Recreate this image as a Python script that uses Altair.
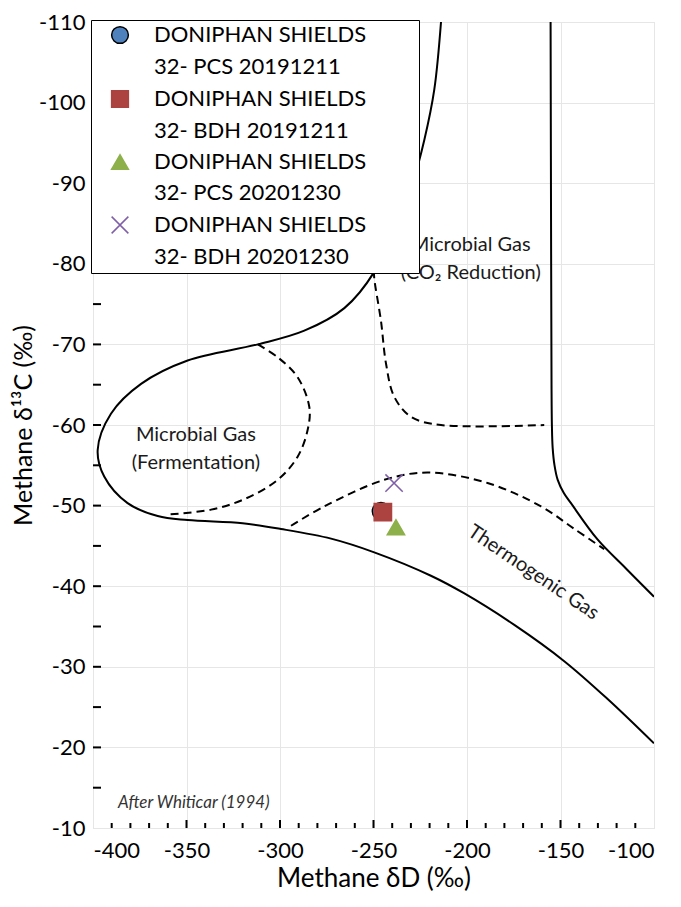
import altair as alt
import pandas as pd

# ---------------- data ----------------
SERIES = [
    "DONIPHAN SHIELDS|32- PCS 20191211",
    "DONIPHAN SHIELDS|32- BDH 20191211",
    "DONIPHAN SHIELDS|32- PCS 20201230",
    "DONIPHAN SHIELDS|32- BDH 20201230",
]
SAMPLE_DD = [-246.0, -245.0, -238.0, -239.0]
SAMPLE_D13C = [-49.3, -49.2, -47.3, -52.8]
FILLS = ["#4F81BD", "#AC4340", "#8DB04A", "transparent"]
STROKES = ["#000000", "#AC4340", "#8DB04A", "#7F5FA8"]
SHAPES = ["circle", "square", "triangle-up", "M-1,-1L1,1M-1,1L1,-1"]

# solid boundary: CO2-reduction / fermentation / thermogenic envelope
CURVE_A_X = [-213.9, -217.5, -222.8, -229.0, -238.0, -249.6, -265.6, -287.0, -311.9, -349.4,
             -374.3, -390.4, -397.5, -394.0, -381.5, -365.4, -349.4, -320.0, -299.5, -272.7,
             -249.6, -219.3, -201.4, -174.7, -148.0, -124.8, -100.0]
CURVE_A_Y = [-110.0, -101.6, -95.4, -90.1, -85.0, -79.0, -74.5, -71.7, -70.0, -68.0,
             -65.1, -61.4, -56.9, -53.6, -50.3, -48.7, -48.2, -47.8, -47.1, -45.9,
             -44.2, -41.3, -39.1, -35.2, -30.7, -26.0, -20.5]
# solid right-hand boundary
CURVE_B_X = [-155.3, -155.0, -154.8, -154.6, -154.2, -153.2, -151.5, -148.3, -144.4, -130.2, -115.0, -100.0]
CURVE_B_Y = [-110.0, -80.0, -65.0, -60.0, -57.2, -55.0, -53.2, -51.6, -50.3, -45.8, -42.2, -38.7]
# dashed: fermentation inner
CURVE_C_X = [-311.9, -301.2, -290.5, -284.3, -285.2, -290.5, -301.2, -319.1, -336.9, -359.2]
CURVE_C_Y = [-70.0, -68.4, -65.9, -62.2, -59.4, -56.1, -53.2, -50.8, -49.5, -48.9]
# dashed: thermogenic upper
CURVE_D_X = [-294.1, -276.3, -244.2, -221.0, -189.0, -160.4, -142.6, -126.6]
CURVE_D_Y = [-47.5, -49.9, -53.2, -54.1, -52.8, -49.9, -47.1, -44.6]
# dashed: CO2 reduction
CURVE_E_X = [-249.8, -249.6, -246.0, -243.3, -238.9, -229.9, -213.9, -158.7]
CURVE_E_Y = [-79.2, -78.2, -72.9, -67.6, -63.5, -61.0, -60.0, -60.0]

ANNOT_TEXT = ["Microbial Gas", "(Fermentation)", "Microbial Gas", "(CO\u2082 Reduction)"]
ANNOT_X = [-345.0, -345.0, -198.0, -198.0]
ANNOT_Y = [-58.7, -55.3, -82.3, -78.9]

Y_TICKS = [-105, -100, -95, -90, -85, -80, -75, -70, -65, -60, -55, -50, -45, -40,
           -35, -30, -25, -20, -15]
X_MINOR_TICKS = [-390, -380, -370, -360, -340, -330, -320, -310, -290, -280, -270, -260,
                 -240, -230, -220, -210, -190, -180, -170, -160, -140, -130, -120, -110]
X_MAJOR_TICKS = [-350, -300, -250, -200, -150]

W, H = 561, 806
FONT = "Lato"

# ---------------- legend layout (two text rows per series) ----------------
LEG_DOMAIN, LEG_SHAPES, LEG_FILLS, LEG_STROKES = [], [], [], []
for s, sh, f, st in zip(SERIES, SHAPES, FILLS, STROKES):
    first, second = s.split("|")
    LEG_DOMAIN += [s, second]
    LEG_SHAPES += [sh, "circle"]
    LEG_FILLS += [f, "transparent"]
    LEG_STROKES += [st, "transparent"]

# ---------------- frames ----------------
def curve_df(name, xs, ys):
    return pd.DataFrame({"curve": name, "order": list(range(len(xs))), "x": xs, "y": ys})

solid = pd.concat([curve_df("A", CURVE_A_X, CURVE_A_Y), curve_df("B", CURVE_B_X, CURVE_B_Y)])
dashed = pd.concat([curve_df("C", CURVE_C_X, CURVE_C_Y), curve_df("D", CURVE_D_X, CURVE_D_Y),
                    curve_df("E", CURVE_E_X, CURVE_E_Y)])
samples = pd.DataFrame({"series": SERIES, "dD": SAMPLE_DD, "d13C": SAMPLE_D13C})
annot = pd.DataFrame({"t": ANNOT_TEXT, "x": ANNOT_X, "y": ANNOT_Y})

xscale = alt.Scale(domain=[-400, -100], nice=False, zero=False)
yscale = alt.Scale(domain=[-110, -10], nice=False, zero=False, reverse=True)

xaxis = alt.Axis(title="Methane \u03b4D (\u2030)", values=[-400, -350, -300, -250, -200, -150, -100],
                 labelExpr="'' + datum.value",
                 ticks=False, domain=False, labelFontSize=22, titleFontSize=26,
                 labelPadding=12, titlePadding=4, grid=True, gridColor="#e6e6e6",
                 labelColor="black", titleColor="black", titleFontWeight="normal",
                 labelFont=FONT, titleFont=FONT)
yaxis = alt.Axis(title="Methane \u03b4\u00b9\u00b3C (\u2030)", values=list(range(-110, -9, 10)),
                 labelExpr="'' + datum.value",
                 ticks=False, domain=False, labelFontSize=22, titleFontSize=25,
                 labelPadding=8, titlePadding=2, grid=True, gridColor="#e6e6e6",
                 labelColor="black", titleColor="black", titleFontWeight="normal",
                 labelFont=FONT, titleFont=FONT)

base_x = alt.X("x:Q", scale=xscale, axis=xaxis)
base_y = alt.Y("y:Q", scale=yscale, axis=yaxis)

solid_layer = alt.Chart(solid).mark_line(color="black", strokeWidth=2, interpolate="catmull-rom", clip=True).encode(
    x=base_x, y=base_y, detail="curve:N", order="order:Q")
dashed_layer = alt.Chart(dashed).mark_line(color="black", strokeWidth=2, strokeDash=[8, 5],
                                           interpolate="catmull-rom", clip=True).encode(
    x="x:Q", y="y:Q", detail="curve:N", order="order:Q")

text_layer = alt.Chart(annot).mark_text(fontSize=20, font=FONT, color="#1a1a1a").encode(
    x="x:Q", y="y:Q", text="t:N")
thermo = alt.Chart(pd.DataFrame({"t": ["Thermogenic Gas"], "x": [-164.5], "y": [-41.7]})).mark_text(
    fontSize=20, font=FONT, angle=34, color="#1a1a1a").encode(x="x:Q", y="y:Q", text="t:N")
after = alt.Chart(pd.DataFrame({"t": ["After Whiticar (1994)"], "x": [-386.6], "y": [-13.1]})).mark_text(
    fontSize=17, font=FONT, fontStyle="italic", align="left", color="#333333").encode(
    x="x:Q", y="y:Q", text="t:N")

yticks = alt.Chart(pd.DataFrame({"v": Y_TICKS})).mark_rule(color="black", strokeWidth=2).encode(
    y="v:Q", x=alt.value(0), x2=alt.value(8))
xminor = alt.Chart(pd.DataFrame({"v": X_MINOR_TICKS})).mark_rule(color="black", strokeWidth=2).encode(
    x="v:Q", y=alt.value(H), y2=alt.value(H - 5))
xmajor = alt.Chart(pd.DataFrame({"v": X_MAJOR_TICKS})).mark_rule(color="black", strokeWidth=2).encode(
    x="v:Q", y=alt.value(H), y2=alt.value(H - 8))

legend = alt.Legend(title=None, orient="none", legendX=-2, legendY=-2, fillColor="white",
                    strokeColor="black", padding=4, labelFontSize=22, labelFont=FONT,
                    labelColor="black", symbolSize=280, symbolStrokeWidth=1.5,
                    labelExpr="split(datum.label, '|')[0] + '\u2800\u2800\u2800'",
                    labelLimit=400, labelOffset=23, symbolOffset=14, rowPadding=8)

points = alt.Chart(samples).mark_point(size=300, strokeWidth=1.5, opacity=1).encode(
    x="dD:Q", y="d13C:Q",
    shape=alt.Shape("series:N", scale=alt.Scale(domain=LEG_DOMAIN, range=LEG_SHAPES), legend=legend),
    fill=alt.Fill("series:N", scale=alt.Scale(domain=LEG_DOMAIN, range=LEG_FILLS), legend=legend),
    stroke=alt.Stroke("series:N", scale=alt.Scale(domain=LEG_DOMAIN, range=LEG_STROKES), legend=legend),
    order=alt.Order("dD:Q", sort="ascending"),
)

chart = alt.layer(solid_layer, dashed_layer, text_layer, thermo, after, yticks, xminor, xmajor,
                  points).properties(
    width=W, height=H, padding={"left": 3, "top": 3, "right": 5, "bottom": 0}
).configure_view(stroke="black", strokeWidth=2.5).configure(background="white")

chart.save("out.html", embed_options={"renderer": "svg", "actions": False})
